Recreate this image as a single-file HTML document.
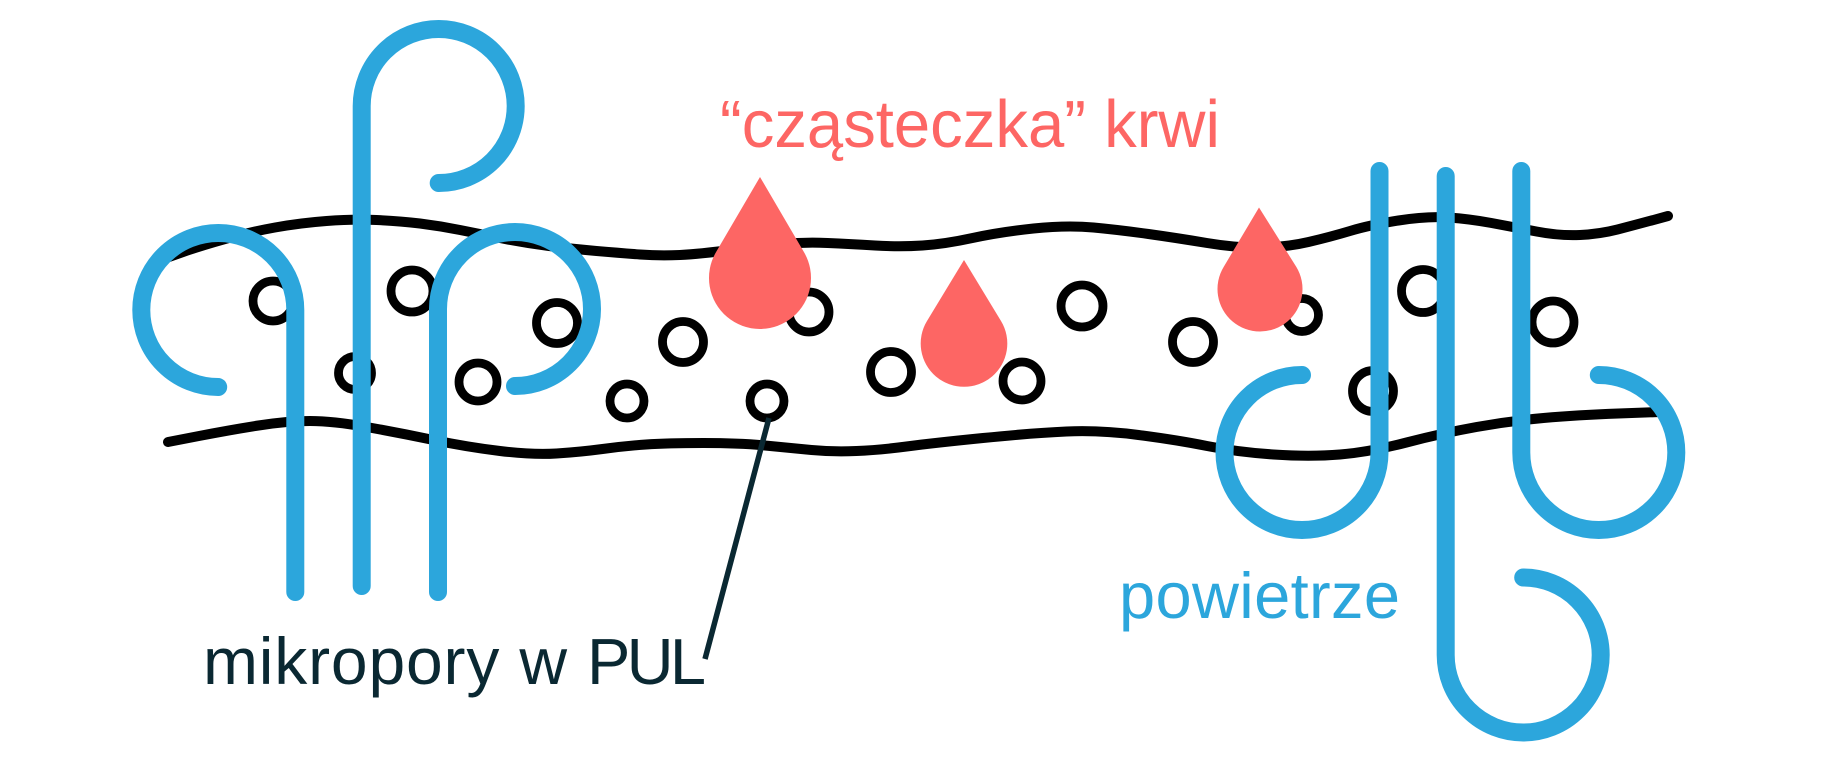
<!DOCTYPE html>
<html>
<head>
<meta charset="utf-8">
<style>
  html, body { margin: 0; padding: 0; background: #ffffff; }
  svg { display: block; }
  text { font-family: "Liberation Sans", "DejaVu Sans", sans-serif; }
</style>
</head>
<body>
<svg width="1835" height="776" viewBox="0 0 1835 776" xmlns="http://www.w3.org/2000/svg">
  <rect x="0" y="0" width="1835" height="776" fill="#ffffff"/>

  <!-- wavy membrane lines -->
  <g fill="none" stroke="#000000" stroke-width="10" stroke-linecap="round" stroke-linejoin="round">
    <path d="M166,258 L183,252 Q200,246 225,239 Q250,232 275,227.5 Q300,223 326.5,221 Q353,219 376.5,220 Q400,221 420,223.5 Q440,226 460,230 Q480,234 502.5,238.5 Q525,243 549,246 Q573,249 596.5,251 Q620,253 640,254.5 Q660,256 680,255 Q700,254 730,250 Q760,246 782.5,244 Q805,242 827.5,243 Q850,244 875,245.5 Q900,247 922.5,245.5 Q945,244 972.5,238 Q1000,232 1033.5,228.5 Q1067,225 1093.5,227.5 Q1120,230 1148.5,234 Q1177,238 1207,243 Q1237,248 1262,247.5 Q1287,247 1308.5,242 Q1330,237 1350,231 Q1370,225 1398.5,220.5 Q1427,216 1448.5,217.5 Q1470,219 1491.5,223 Q1513,227 1536.5,231.5 Q1560,236 1580,235 Q1600,234 1617.5,229.5 Q1635,225 1651.5,220.5 L1668,216"/>
    <path d="M168,442 L199,436 Q230,430 258.5,425.5 Q287,421 310,421 Q333,421 366.5,427 Q400,433 433.5,440 Q467,447 500,451 Q533,455 556.5,453.5 Q580,452 602.5,449 Q625,446 646,444.5 Q667,443 703.5,443 Q740,443 765,445.5 Q790,448 811.5,450 Q833,452 856.5,451 Q880,450 906.5,446.5 Q933,443 983,438 Q1033,433 1066.5,431.5 Q1100,430 1138.5,435 Q1177,440 1207,446 Q1237,452 1273.5,454.5 Q1310,457 1340,454.5 Q1370,452 1406.5,442.5 Q1443,433 1476.5,427 Q1510,421 1543.5,418 Q1577,415 1618.5,413.5 L1660,412"/>
  </g>

  <!-- micropores -->
  <g fill="none" stroke="#000000" stroke-width="8.8">
    <circle cx="273" cy="301" r="20"/>
    <circle cx="412" cy="291" r="21"/>
    <circle cx="557" cy="323" r="20.5"/>
    <circle cx="355" cy="373" r="16.5"/>
    <circle cx="478" cy="382" r="19"/>
    <circle cx="683" cy="342" r="20.5"/>
    <circle cx="627" cy="401" r="17"/>
    <circle cx="767" cy="401" r="17"/>
    <circle cx="809" cy="312" r="20"/>
    <circle cx="891" cy="372" r="20.5"/>
    <circle cx="1022" cy="381" r="19"/>
    <circle cx="1082" cy="306" r="21"/>
    <circle cx="1193" cy="342" r="20.5"/>
    <circle cx="1302" cy="315" r="16.5"/>
    <circle cx="1373" cy="391" r="20.5"/>
    <circle cx="1423" cy="291" r="21.5"/>
    <circle cx="1553" cy="322" r="21"/>
  </g>

  <!-- pointer line -->
  <line x1="769" y1="418" x2="705" y2="659" stroke="#0a2832" stroke-width="5.5" stroke-linecap="butt"/>

  <!-- blood drops -->
  <g fill="#fd6664">
    <path d="M760,177 L803.9,252 A51,51 0 1 1 716.1,252 Z"/>
    <path d="M964,260 L1001,321 A43.3,43.3 0 1 1 927,321 Z"/>
    <path d="M1259,207.5 L1296.3,266.9 A42.5,42.5 0 1 1 1223.7,266.9 Z"/>
  </g>

  <!-- air flow hooks -->
  <g fill="none" stroke="#2ca6dc" stroke-width="18" stroke-linecap="round" stroke-linejoin="round">
    <!-- left group -->
    <path d="M295.3,592 V310 A77,77 0 1 0 218.2,387"/>
    <path d="M361.7,586 V106 A77,77 0 1 1 438.7,183"/>
    <path d="M438,592 V309 A77,77 0 1 1 515,386"/>
    <!-- right group -->
    <path d="M1379.5,171 V452.5 A77.5,77.5 0 1 1 1302,375"/>
    <path d="M1445.7,176 V655 A77.5,77.5 0 1 0 1523.2,577.5"/>
    <path d="M1521.3,171 V452.5 A77.5,77.5 0 1 0 1598.8,375"/>
  </g>

  <!-- labels -->
  <text x="720" y="147" font-size="67" fill="#fd6664" textLength="500" lengthAdjust="spacingAndGlyphs">“cząsteczka” krwi</text>
  <text x="203" y="684" font-size="66" fill="#0a2832" textLength="364" lengthAdjust="spacing">mikropory w</text>
  <text x="587" y="684" font-size="65" fill="#0a2832" textLength="119" lengthAdjust="spacing">PUL</text>
  <text x="1119" y="618" font-size="65" fill="#2ca6dc" textLength="281" lengthAdjust="spacing">powietrze</text>
</svg>
</body>
</html>
